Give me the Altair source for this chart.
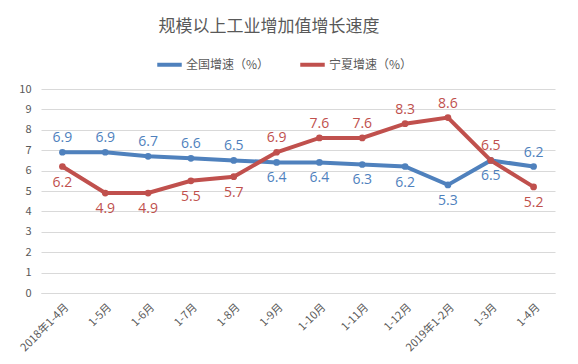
import altair as alt
import pandas as pd

months = ["2018年1-4月", "1-5月", "1-6月", "1-7月", "1-8月", "1-9月", "1-10月",
          "1-11月", "1-12月", "2019年1-2月", "1-3月", "1-4月"]
national = [6.9, 6.9, 6.7, 6.6, 6.5, 6.4, 6.4, 6.3, 6.2, 5.3, 6.5, 6.2]
ningxia = [6.2, 4.9, 4.9, 5.5, 5.7, 6.9, 7.6, 7.6, 8.3, 8.6, 6.5, 5.2]
series_names = ["全国增速（%）", "宁夏增速（%）"]
colors = ["#4F81BD", "#C0504D"]

rows = []
for i, m in enumerate(months):
    a, b = national[i], ningxia[i]
    rows.append({"month": m, "series": series_names[0], "value": a, "above": a > b})
    rows.append({"month": m, "series": series_names[1], "value": b, "above": b >= a})
df = pd.DataFrame(rows)

FONT = "Noto Sans CJK SC"
color_scale = alt.Scale(domain=series_names, range=colors)

x = alt.X("month:N", sort=months, title=None,
          scale=alt.Scale(type="point", padding=0.5),
          axis=alt.Axis(labelAngle=-45, labelFontSize=11, labelColor="#595959",
                        labelFont=FONT, ticks=False, domainColor="#D9D9D9",
                        labelPadding=8, grid=False))
y = alt.Y("value:Q", title=None,
          scale=alt.Scale(domain=[0, 10], nice=False),
          axis=alt.Axis(values=list(range(0, 11)), labelFontSize=11, labelColor="#595959",
                        labelFont=FONT, ticks=False, domain=False, gridColor="#D9D9D9",
                        labelPadding=10))

base = alt.Chart(df)

lines = base.mark_line(strokeWidth=4, point=alt.OverlayMarkDef(size=45, filled=True)).encode(
    x=x, y=y,
    color=alt.Color("series:N", scale=color_scale, sort=series_names,
                    legend=alt.Legend(title=None, orient="none", direction="horizontal",
                                      legendX=114, legendY=-39, symbolType="stroke",
                                      symbolStrokeWidth=4, symbolSize=600,
                                      labelFontSize=12, labelColor="#595959",
                                      labelFont=FONT, columnPadding=22,
                                      labelOffset=2))
)

above = base.transform_filter("datum.above").mark_text(
    dy=-14, fontSize=14, font="Open Sans").encode(
    x=x, y=y, text=alt.Text("value:Q", format=".1f"),
    color=alt.Color("series:N", scale=color_scale, legend=None))
below = base.transform_filter("!datum.above").mark_text(
    dy=16, fontSize=14, font="Open Sans").encode(
    x=x, y=y, text=alt.Text("value:Q", format=".1f"),
    color=alt.Color("series:N", scale=color_scale, legend=None))

chart = alt.layer(lines, above, below).properties(
    width=514, height=204,
    title=alt.TitleParams("规模以上工业增加值增长速度", fontSize=17, color="#595959",
                          font=FONT, fontWeight="normal", anchor="middle", dx=-29,
                          offset=14),
    autosize=alt.AutoSizeParams(type="none"),
    padding={"left": 33, "top": 81, "right": 15, "bottom": 60},
).configure_view(stroke=None)

chart.save("out.html", embed_options={"renderer": "svg", "actions": False})
